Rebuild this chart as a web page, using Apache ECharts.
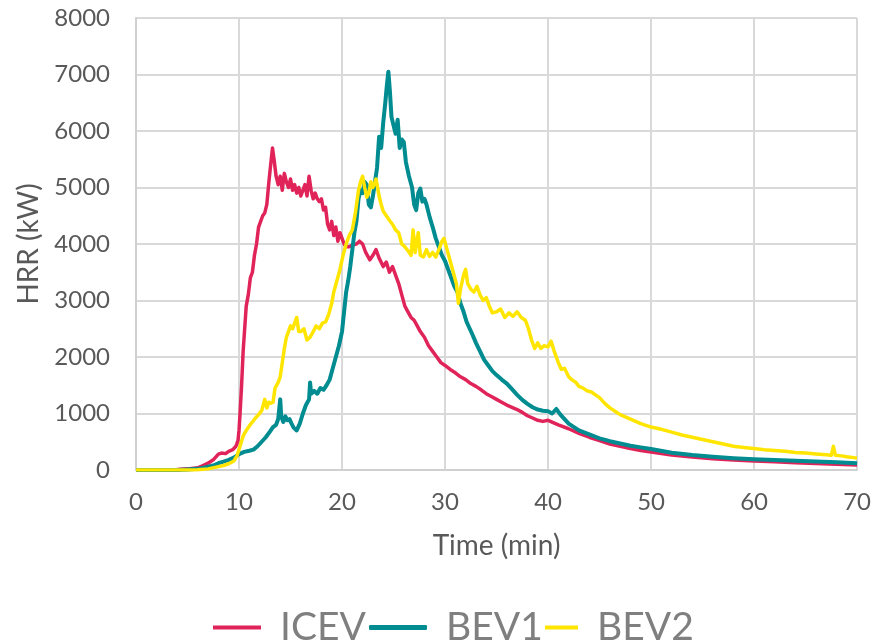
<!DOCTYPE html>
<html>
<head>
<meta charset="utf-8">
<script src="https://cdn.jsdelivr.net/npm/echarts@6/dist/echarts.min.js"></script>
<style>
html,body{margin:0;padding:0;background:#fff;}
#chart{width:874px;height:644px;}
</style>
</head>
<body>
<div id="chart"></div>
<script>
// ---- Data (time in min, HRR in kW) ----
const seriesNames = ['ICEV', 'BEV1', 'BEV2'];

const icevTime = [0,2,4,5,6,6.5,7,7.5,8,8.3,8.7,9,9.4,9.7,9.9,10.0,10.1,10.25,10.4,10.55,10.7,10.9,11.1,11.3,11.5,11.7,11.9,12.1,12.3,12.5,12.7,12.9,13.1,13.25,13.4,13.6,13.8,14.0,14.2,14.4,14.6,14.8,15.0,15.2,15.4,15.6,15.8,16.0,16.2,16.4,16.6,16.8,17.0,17.2,17.4,17.6,17.8,18.0,18.2,18.4,18.6,18.8,19.0,19.2,19.4,19.6,19.8,20.0,20.2,20.4,20.7,21.0,21.4,21.7,22.0,22.3,22.7,23.0,23.3,23.6,24.0,24.3,24.6,24.9,25.2,25.5,25.8,26.1,26.4,26.7,27.0,27.3,27.6,28.0,28.4,28.8,29.2,29.6,30.0,30.5,31.0,31.5,32.0,32.5,33.0,33.5,34.0,34.5,35.0,35.5,36.0,36.5,37.0,37.5,38.0,38.5,39.0,39.5,40,41,42,43,44,45,46,47,48,49,50,52,54,56,58,60,62,64,66,68,70];
const icevHRR  = [0,0,10,20,40,80,120,180,280,300,290,330,360,420,520,700,1000,1500,2100,2500,2900,3100,3400,3500,3800,4000,4300,4400,4500,4550,4700,5100,5450,5700,5500,5200,5050,5200,4950,5250,5100,5000,5150,4950,5050,4900,5000,4850,4950,5050,4850,5200,4950,4800,4900,4800,4750,4800,4600,4650,4350,4250,4400,4150,4300,4050,4200,4100,4000,3950,3950,3980,4000,4050,4000,3850,3720,3800,3900,3750,3600,3680,3500,3600,3450,3300,3100,2900,2800,2700,2650,2550,2450,2350,2200,2100,2000,1900,1850,1780,1720,1650,1600,1530,1480,1420,1350,1300,1250,1200,1150,1110,1070,1020,960,920,880,860,880,800,730,650,580,520,460,420,380,345,320,265,230,200,175,160,145,130,115,100,90];

const bev1Time = [0,4,5,6,7,7.5,8,8.5,9,9.5,10,10.5,11,11.4,11.8,12.2,12.6,13.0,13.3,13.6,13.8,14.0,14.1,14.3,14.5,14.7,14.9,15.1,15.3,15.6,15.9,16.2,16.5,16.8,16.9,17.0,17.3,17.6,17.9,18.2,18.5,18.8,19.1,19.4,19.7,20.0,20.2,20.4,20.6,20.8,21.0,21.2,21.4,21.6,21.8,22.0,22.2,22.4,22.6,22.8,23.0,23.2,23.4,23.6,23.8,24.0,24.2,24.35,24.5,24.65,24.8,25.0,25.2,25.4,25.6,25.8,26.0,26.2,26.5,26.8,27.0,27.2,27.4,27.6,27.8,28.0,28.2,28.5,28.8,29.1,29.4,29.7,30.0,30.3,30.6,30.9,31.2,31.5,31.8,32.1,32.4,32.7,33.0,33.4,33.8,34.2,34.6,35.0,35.5,36.0,36.5,37.0,37.5,38.0,38.5,39.0,39.5,40.0,40.4,40.8,41.2,41.6,42,43,44,45,46,47,48,49,50,52,54,56,58,60,62,64,66,68,70];
const bev1HRR  = [0,0,10,20,60,80,120,150,180,220,280,320,340,360,420,500,580,680,760,800,900,1250,950,850,950,880,900,820,750,700,820,1000,1150,1250,1550,1350,1400,1350,1450,1420,1500,1600,1800,2000,2200,2450,2800,3150,3350,3600,3900,4200,4400,4800,4950,4900,5100,5050,4700,4650,4850,5100,5350,5900,5700,6150,6500,6800,7050,6700,6250,6100,5950,6200,5700,5850,5800,5450,5200,5000,4700,4600,4900,4980,4750,4800,4700,4480,4300,4100,3950,3800,3700,3550,3400,3250,3150,2950,2800,2620,2500,2380,2250,2100,1950,1850,1750,1680,1600,1530,1430,1330,1240,1170,1110,1070,1050,1040,1000,1080,980,900,820,700,630,560,510,470,430,400,370,305,265,235,210,190,178,165,150,135,120];

const bev2Time = [0,5,6,7,8,8.5,9,9.5,9.8,10.1,10.4,10.7,11.0,11.3,11.6,11.9,12.2,12.5,12.7,12.9,13.1,13.3,13.5,13.8,14.0,14.2,14.4,14.6,14.8,15.0,15.2,15.4,15.6,15.8,16.0,16.3,16.6,16.9,17.2,17.5,17.8,18.1,18.4,18.7,19.0,19.2,19.5,19.8,20.1,20.4,20.7,21.0,21.3,21.6,21.8,22.0,22.2,22.4,22.6,22.8,23.0,23.3,23.6,23.8,24.0,24.3,24.6,24.9,25.2,25.5,25.8,26.1,26.4,26.7,26.9,27.1,27.4,27.6,27.9,28.2,28.5,28.8,29.1,29.4,29.7,29.9,30.2,30.5,30.8,31.1,31.3,31.5,31.8,32.0,32.2,32.5,32.8,33.1,33.4,33.7,34.0,34.3,34.6,35.0,35.4,35.8,36.2,36.6,37.0,37.4,37.8,38.1,38.4,38.7,39.0,39.3,39.6,40.0,40.3,40.6,41.0,41.3,41.6,42.0,42.3,42.7,43.0,43.4,43.8,44.2,44.6,45.0,45.5,46.0,46.5,47.0,47.5,48,48.5,49,49.5,50,51,52,53,54,55,56,57,58,59,60,61,62,63,64,65,66,67,67.5,67.7,67.9,68.5,69,70];
const bev2HRR  = [0,0,5,20,60,80,110,160,250,420,600,700,780,850,920,980,1050,1250,1100,1200,1180,1200,1450,1550,1650,1900,2150,2350,2450,2550,2500,2600,2700,2450,2450,2500,2300,2350,2450,2550,2500,2600,2620,2750,2950,3150,3350,3550,3800,4000,4150,4250,4550,4950,5100,5200,5000,4830,4900,5100,5000,5150,4850,4700,4580,4500,4420,4350,4250,4200,4000,3950,3880,3800,4250,3850,4200,3800,3770,3900,3780,3850,3770,3900,4050,4100,3900,3700,3500,3300,2950,3200,3450,3550,3300,3200,3150,3250,3100,3000,3050,2900,2780,2800,2850,2700,2780,2720,2800,2700,2650,2500,2300,2150,2250,2150,2200,2180,2280,2100,1900,1780,1800,1650,1600,1550,1480,1450,1400,1380,1330,1280,1180,1100,1040,980,940,900,860,820,790,760,720,670,620,580,540,500,460,420,400,380,360,345,330,310,300,285,270,260,420,260,250,235,210];

const xTicks = {min: 0, max: 70, step: 10};
const yTicks = {min: 0, max: 8000, step: 1000};

// ---- Chart ----
const colors = ['#E0245A', '#008C90', '#FFE500'];
const FONT = 'Lato';
function pairs(t, v) { return t.map((x, i) => [x, v[i]]); }
const seriesData = [pairs(icevTime, icevHRR), pairs(bev1Time, bev1HRR), pairs(bev2Time, bev2HRR)];
const lineWidths = [3.5, 4, 3.5];

const chart = echarts.init(document.getElementById('chart'), null, {renderer: 'canvas'});
const legendDefs = [
  {left: 208, w: 48, h: 4, icon: 'rect', pad: 14},
  {left: 364, w: 58, h: 5, icon: 'roundRect', pad: 14},
  {left: 540, w: 33, h: 4, icon: 'rect', pad: 14}
];
chart.setOption({
  animation: false,
  backgroundColor: '#ffffff',
  color: colors,
  grid: {left: 136, right: 14, top: 18, bottom: 174, containLabel: false},
  legend: legendDefs.map((d, i) => ({
    data: [{name: seriesNames[i], icon: d.icon}],
    left: d.left, top: 603,
    itemWidth: d.w, itemHeight: d.h,
    textStyle: {fontFamily: FONT, fontSize: 39, color: '#7f7f7f', padding: [0, 0, 0, d.pad]}
  })),
  xAxis: {
    type: 'value', min: xTicks.min, max: xTicks.max, interval: xTicks.step,
    name: 'Time (min)', nameLocation: 'middle', nameGap: 62,
    nameTextStyle: {fontFamily: FONT, fontSize: 28, color: '#595959'},
    axisLine: {show: true, lineStyle: {color: '#d0d0d0', width: 2}},
    axisTick: {show: false},
    axisLabel: {fontFamily: FONT, fontSize: 24, color: '#595959', margin: 20},
    splitLine: {show: true, lineStyle: {color: '#d9d9d9', width: 2}}
  },
  yAxis: {
    type: 'value', min: yTicks.min, max: yTicks.max, interval: yTicks.step,
    name: 'HRR (kW)', nameLocation: 'middle', nameGap: 93,
    nameTextStyle: {fontFamily: FONT, fontSize: 28, color: '#595959'},
    axisLine: {show: true, lineStyle: {color: '#d0d0d0', width: 2}},
    axisTick: {show: false},
    axisLabel: {fontFamily: FONT, fontSize: 24, color: '#595959', margin: 26,
      formatter: v => String(v)},
    splitLine: {show: true, lineStyle: {color: '#d9d9d9', width: 2}}
  },
  series: seriesNames.map((n, i) => ({
    name: n, type: 'line', data: seriesData[i],
    showSymbol: false, symbol: 'none', smooth: false,
    lineStyle: {width: lineWidths[i], color: colors[i], join: 'round'},
    itemStyle: {color: colors[i]},
    z: 2 + i
  }))
});
</script>
</body>
</html>
